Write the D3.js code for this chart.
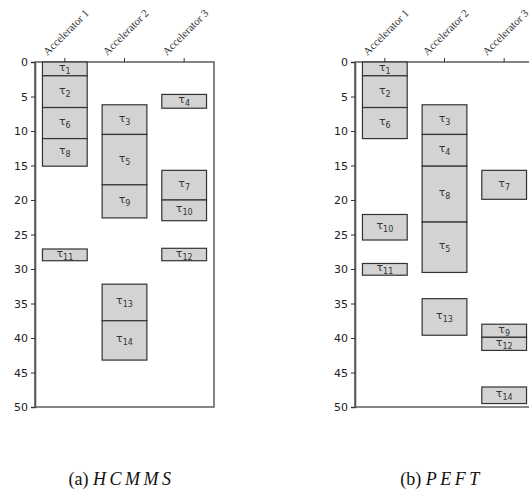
<!DOCTYPE html>
<html><head><meta charset="utf-8">
<script src="https://cdn.jsdelivr.net/npm/d3@7"></script>
<style>body{margin:0;background:#fff;}svg{display:block;}</style>
</head><body>
<script>
const accelerators = ["Accelerator 1", "Accelerator 2", "Accelerator 3"];
const yTicks = [0, 5, 10, 15, 20, 25, 30, 35, 40, 45, 50];

// (a) HCMMS schedule
const hcmmsTask  = [1, 2, 6, 8, 11, 3, 5, 9, 13, 14, 4, 7, 10, 12];
const hcmmsAcc   = [0, 0, 0, 0, 0, 1, 1, 1, 1, 1, 2, 2, 2, 2];
const hcmmsStart = [0, 2.0, 6.6, 11.1, 27.1, 6.2, 10.5, 17.8, 32.2, 37.5, 4.7, 15.7, 20.0, 27.0];
const hcmmsEnd   = [2.0, 6.6, 11.1, 15.1, 28.8, 10.5, 17.8, 22.6, 37.5, 43.2, 6.7, 20.0, 23.0, 28.8];

// (b) PEFT schedule
const peftTask  = [1, 2, 6, 10, 11, 3, 4, 8, 5, 13, 7, 9, 12, 14];
const peftAcc   = [0, 0, 0, 0, 0, 1, 1, 1, 1, 1, 2, 2, 2, 2];
const peftStart = [0, 2.0, 6.6, 22.1, 29.2, 6.2, 10.5, 15.1, 23.2, 34.3, 15.7, 38.0, 39.9, 47.1];
const peftEnd   = [2.0, 6.6, 11.1, 25.8, 30.9, 10.5, 15.1, 23.2, 30.5, 39.6, 19.9, 39.9, 41.8, 49.5];

const captions = [["(a) ", "HCMMS"], ["(b) ", "PEFT"]];

const SERIF = "'Liberation Serif', 'Times New Roman', 'DejaVu Serif', serif";
const W = 529, H = 491;
const svg = d3.select("body").append("svg").attr("width", W).attr("height", H);

function panel(x0, task, acc, start, end, caption) {
  const plotW = 179, top = 62, bottom = 407;
  const x = d3.scaleBand().domain(accelerators).range([x0, x0 + plotW]).padding(0);
  const y = d3.scaleLinear().domain([0, 50]).range([top, bottom]);
  const g = svg.append("g");

  // frame
  g.append("rect").attr("x", x0).attr("y", top).attr("width", plotW).attr("height", bottom - top)
    .attr("fill", "none").attr("stroke", "#444").attr("stroke-width", 1.3);

  // left axis
  const ya = g.append("g").attr("transform", `translate(${x0},0)`)
    .call(d3.axisLeft(y).tickValues(yTicks).tickSize(4).tickPadding(3));
  ya.select(".domain").attr("stroke", "#555").attr("stroke-width", 1.6);
  ya.selectAll(".tick line").attr("stroke", "#333");
  ya.selectAll("text").attr("font-family", "DejaVu Sans").attr("font-size", 11).attr("fill", "#222");

  // top axis
  const xa = g.append("g").attr("transform", `translate(0,${top})`)
    .call(d3.axisTop(x).tickSize(4).tickFormat(""));
  xa.select(".domain").remove();
  xa.selectAll(".tick line").attr("stroke", "#333");
  g.selectAll(".acclab").data(accelerators).enter().append("text")
    .attr("class", "acclab")
    .attr("transform", d => `translate(${x(d) + x.bandwidth() / 2 + 1},${top - 30}) rotate(-45)`)
    .attr("text-anchor", "middle").attr("dominant-baseline", "central")
    .attr("font-family", SERIF).attr("font-size", 11).attr("fill", "#333")
    .text(d => d);

  const idx = d3.range(task.length);
  const bw = x.bandwidth() * 0.75;
  g.selectAll(".bar").data(idx).enter().append("rect")
    .attr("x", i => x(accelerators[acc[i]]) + (x.bandwidth() - bw) / 2)
    .attr("y", i => y(start[i]))
    .attr("width", bw)
    .attr("height", i => y(end[i]) - y(start[i]))
    .attr("fill", "#d3d3d3").attr("stroke", "#333").attr("stroke-width", 1.2);

  const t = g.selectAll(".lab").data(idx).enter().append("text")
    .attr("x", i => x(accelerators[acc[i]]) + x.bandwidth() / 2)
    .attr("y", i => y((start[i] + end[i]) / 2) + 2)
    .attr("text-anchor", "middle")
    .attr("font-family", "DejaVu Sans").attr("font-size", 11).attr("fill", "#333");
  t.append("tspan").text("τ");
  t.append("tspan").attr("dy", 3).attr("font-size", 8).text(i => task[i]);

  const c = svg.append("text").attr("x", x0 + plotW / 2 - 3).attr("y", 485)
    .attr("text-anchor", "middle").attr("font-family", SERIF).attr("font-size", 18).attr("fill", "#111");
  c.append("tspan").text(caption[0]);
  c.append("tspan").attr("font-style", "italic").attr("letter-spacing", 3.5).text(caption[1]);
}

panel(35, hcmmsTask, hcmmsAcc, hcmmsStart, hcmmsEnd, captions[0]);
panel(355, peftTask, peftAcc, peftStart, peftEnd, captions[1]);
</script>
</body></html>
